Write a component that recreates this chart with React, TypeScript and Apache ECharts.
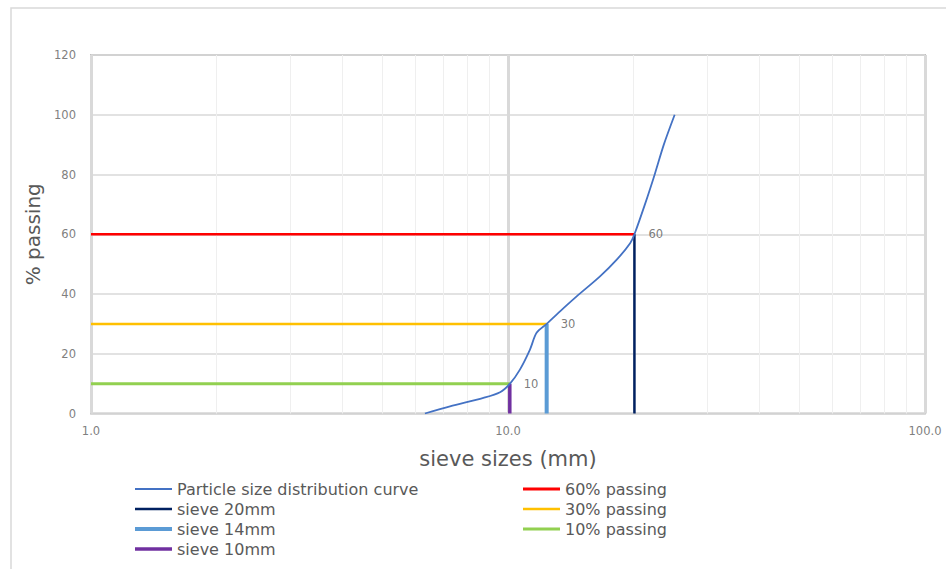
import React, { useEffect, useRef } from "react";
import * as echarts from "echarts";

// Particle size distribution curve: [sieve size (mm), % passing]
const curveSizes = [6.32, 7.26, 8.73, 9.57, 10.11, 10.68, 11.29, 11.71, 12.38, 13.33, 14.61, 16.62, 18.23, 19.63, 20.1, 21.3, 22.5, 23.64, 25.1];
const curvePassing = [0, 2.4, 5.2, 7.1, 10, 14.7, 21.4, 27, 30, 34.2, 39.2, 45.9, 51.5, 57, 60, 70, 80.2, 90, 100];

const passingLevels = [60, 30, 10];
const passingSizes = [20.1, 12.38, 10.1];
const sieveNames = ["sieve 20mm", "sieve 14mm", "sieve 10mm"];
const passingNames = ["60% passing", "30% passing", "10% passing"];
const xMin = 1;
const xMax = 100;
const yTicks = [0, 20, 40, 60, 80, 100, 120];
const minorX = [2, 3, 4, 5, 6, 7, 8, 9, 20, 30, 40, 50, 60, 70, 80, 90];

const CURVE_NAME = "Particle size distribution curve";

export default function App() {
  const ref = useRef<HTMLDivElement>(null);
  useEffect(() => {
    if (!ref.current) return;
    const chart = echarts.init(ref.current, null, { renderer: "svg" });
    const curveData = curveSizes.map((s, i) => [s, curvePassing[i]]);
    const sieveColors = ["#002060", "#5B9BD5", "#7030A0"];
    const sieveWidths = [2.5, 4, 3.5];
    const passColors = ["#FF0000", "#FFC000", "#92D050"];
    const passWidths = [2.5, 2.5, 3];
    const font = "'DejaVu Sans', sans-serif";
    const icon = (t: number) => `path://M0,0L37,0L37,${t}L0,${t}Z`;
    const series: any[] = [
      {
        name: "minor",
        type: "line",
        data: [],
        silent: true,
        z: 0,
        markLine: {
          silent: true,
          symbol: "none",
          z: 0,
          label: { show: false },
          lineStyle: { color: "#efefef", width: 1, type: "solid" },
          data: minorX.map((v) => ({ xAxis: v })),
        },
      },
      {
        name: CURVE_NAME,
        type: "line",
        data: curveData,
        smooth: 0.3,
        symbol: "none",
        lineStyle: { color: "#4472C4", width: 1.8 },
        itemStyle: { color: "#4472C4" },
        z: 4,
      },
    ];
    passingLevels.forEach((lvl, i) => {
      series.push({
        name: passingNames[i],
        type: "line",
        data: [
          [xMin, lvl],
          [passingSizes[i], lvl],
        ],
        symbol: "none",
        lineStyle: { color: passColors[i], width: passWidths[i] },
        itemStyle: { color: passColors[i] },
        z: 3,
      });
      series.push({
        name: sieveNames[i],
        type: "line",
        data: [
          [passingSizes[i], 0],
          [passingSizes[i], lvl],
        ],
        symbol: "none",
        lineStyle: { color: sieveColors[i], width: sieveWidths[i] },
        itemStyle: { color: sieveColors[i] },
        z: 3,
      });
    });
    series.push({
      name: "labels",
      type: "scatter",
      symbolSize: 0,
      data: passingLevels.map((lvl, i) => [passingSizes[i], lvl]),
      label: {
        show: true,
        position: "right",
        distance: 14,
        formatter: (p: any) => String(p.value[1]),
        color: "#595959",
        fontSize: 11.5,
        fontFamily: font,
      },
      z: 5,
    });

    const legendText = { color: "#595959", fontSize: 16, fontFamily: font };
    const widthOf: Record<string, number> = {
      [CURVE_NAME]: 2,
      "sieve 20mm": 2.5,
      "sieve 14mm": 4,
      "sieve 10mm": 3.5,
      "60% passing": 3,
      "30% passing": 2.5,
      "10% passing": 3,
    };
    const legendData = (names: string[]) => names.map((n) => ({ name: n, icon: icon(widthOf[n]) }));
    const legendBase = {
      orient: "vertical",
      top: 481,
      padding: 0,
      itemWidth: 37,
      itemHeight: 14,
      itemGap: 4,
      textStyle: legendText,
    };
    chart.setOption({
      animation: false,
      graphic: [
        {
          type: "rect",
          shape: { x: 11, y: 8, width: 960, height: 600 },
          style: { fill: "none", stroke: "#d9d9d9", lineWidth: 1.5 },
          silent: true,
        },
      ],
      grid: {
        left: 91,
        top: 55,
        width: 834,
        height: 358.5,
        show: true,
        borderColor: "#c0c0c0",
        borderWidth: 2,
        backgroundColor: "transparent",
      },
      legend: [
        {
          ...legendBase,
          left: 135,
          data: legendData([CURVE_NAME, "sieve 20mm", "sieve 14mm", "sieve 10mm"]),
        },
        {
          ...legendBase,
          left: 523,
          data: legendData(["60% passing", "30% passing", "10% passing"]),
        },
      ],
      xAxis: {
        type: "log",
        logBase: 10,
        min: xMin,
        max: xMax,
        name: "sieve sizes (mm)",
        nameLocation: "middle",
        nameGap: 35,
        nameTextStyle: { fontSize: 21, color: "#595959", fontFamily: font },
        axisLine: { show: false },
        axisTick: { show: false },
        axisLabel: {
          color: "#7f7f7f",
          fontSize: 11.5,
          fontFamily: font,
          margin: 11,
          formatter: (v: number) => v.toFixed(1),
        },
        splitLine: { show: true, lineStyle: { color: "#d9d9d9", width: 3 } },
        minorSplitLine: { show: false },
      },
      yAxis: {
        type: "value",
        min: yTicks[0],
        max: yTicks[yTicks.length - 1],
        interval: 20,
        name: "% passing",
        nameLocation: "middle",
        nameGap: 42,
        nameRotate: 90,
        nameTextStyle: { fontSize: 20, color: "#595959", fontFamily: font },
        axisLine: { show: false },
        axisTick: { show: false },
        axisLabel: { color: "#7f7f7f", fontSize: 11.5, fontFamily: font, margin: 15 },
        splitLine: { show: true, lineStyle: { color: "#d9d9d9", width: 1.5 } },
      },
      series,
    });
    return () => chart.dispose();
  }, []);
  return (
    <div
      ref={ref}
      style={{ position: "fixed", left: 0, top: 0, width: 946, height: 569, background: "#fff" }}
    />
  );
}
